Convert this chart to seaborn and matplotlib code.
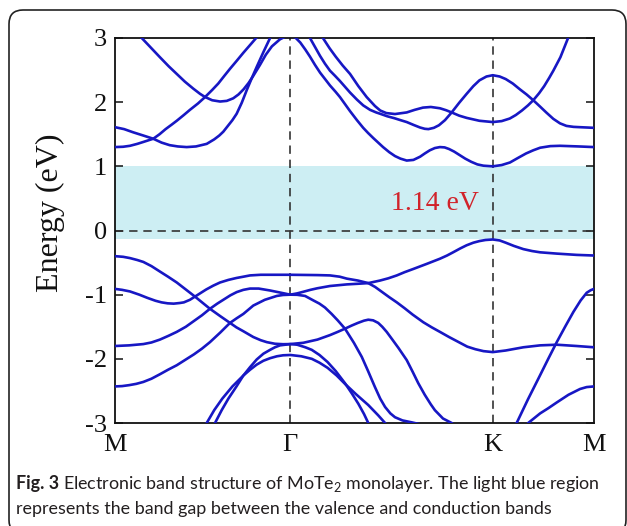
import numpy as np
import pandas as pd
import matplotlib
matplotlib.use("Agg")
import matplotlib.pyplot as plt
from matplotlib.patches import FancyBboxPatch
from matplotlib.transforms import IdentityTransform
import seaborn as sns

# High-symmetry points along the M–Γ–K–M path (path-length units)
kpoint_labels = ["M", "Γ", "K", "M"]
kpoint_pos = [0.0, 0.866, 1.866, 2.366]

# Band edges (eV, Fermi level at 0)
vbm = -0.14
gap = 1.14

# ---- conduction bands ----
cb1_k = [0.0, 0.132, 0.180, 0.222, 0.265, 0.305, 0.345, 0.387, 0.420, 0.445, 0.480, 0.519,
         0.552, 0.584, 0.610, 0.635, 0.660, 0.683, 0.716, 0.745, 0.775, 0.815, 0.840, 0.866,
         0.890, 0.915, 0.940, 0.963, 0.988, 1.013, 1.040, 1.062, 1.090, 1.111, 1.136, 1.161,
         1.195, 1.226, 1.250, 1.276, 1.300, 1.324, 1.355, 1.383, 1.410, 1.441, 1.474, 1.507,
         1.530, 1.555, 1.580, 1.605, 1.628, 1.650, 1.675, 1.700, 1.730, 1.760, 1.790, 1.820,
         1.866, 1.910, 1.951, 1.990, 2.030, 2.066, 2.100, 2.150, 2.198, 2.290, 2.366]
cb1_e = [3.45, 3.00, 2.84, 2.70, 2.56, 2.44, 2.32, 2.21, 2.13, 2.08, 2.03, 2.01,
         2.02, 2.06, 2.12, 2.20, 2.30, 2.41, 2.58, 2.74, 2.87, 2.98, 3.02, 3.03,
         3.01, 2.93, 2.82, 2.71, 2.58, 2.46, 2.35, 2.26, 2.16, 2.08, 1.97, 1.86,
         1.72, 1.60, 1.52, 1.44, 1.37, 1.30, 1.22, 1.16, 1.12, 1.09, 1.10, 1.15,
         1.20, 1.25, 1.285, 1.30, 1.295, 1.27, 1.23, 1.18, 1.12, 1.07, 1.03, 1.01,
         1.00, 1.02, 1.06, 1.13, 1.20, 1.25, 1.29, 1.315, 1.32, 1.31, 1.30]

cb2_k = [0.0, 0.040, 0.074, 0.110, 0.140, 0.189, 0.220, 0.250, 0.280, 0.305, 0.340, 0.370,
         0.410, 0.445, 0.480, 0.510, 0.540, 0.568, 0.600, 0.634, 0.667, 0.700, 0.766, 0.866,
         0.939, 0.963, 0.988, 1.013, 1.037, 1.062, 1.087, 1.111, 1.136, 1.161, 1.195, 1.226,
         1.260, 1.290, 1.309, 1.345, 1.380, 1.410, 1.441, 1.475, 1.507, 1.530, 1.548, 1.575,
         1.600, 1.630, 1.663, 1.700, 1.737, 1.770, 1.800, 1.835, 1.866, 1.900, 1.930, 1.965,
         2.000, 2.033, 2.066, 2.100, 2.130, 2.165, 2.198, 2.230, 2.265, 2.297, 2.366]
cb2_e = [1.30, 1.305, 1.32, 1.35, 1.38, 1.43, 1.50, 1.58, 1.65, 1.71, 1.80, 1.88,
         1.98, 2.08, 2.19, 2.29, 2.41, 2.52, 2.64, 2.77, 2.89, 3.01, 3.25, 3.40,
         3.15, 3.00, 2.86, 2.72, 2.60, 2.49, 2.41, 2.33, 2.24, 2.15, 2.04, 1.95,
         1.88, 1.84, 1.82, 1.78, 1.75, 1.72, 1.69, 1.645, 1.605, 1.585, 1.58, 1.60,
         1.64, 1.72, 1.84, 1.99, 2.13, 2.25, 2.34, 2.40, 2.42, 2.40, 2.36, 2.29,
         2.20, 2.12, 2.03, 1.93, 1.84, 1.74, 1.67, 1.63, 1.615, 1.61, 1.60]

cb3_k = [0.0, 0.045, 0.090, 0.140, 0.189, 0.230, 0.270, 0.310, 0.354, 0.400, 0.453, 0.490,
         0.515, 0.535, 0.560, 0.580, 0.601, 0.626, 0.651, 0.675, 0.700, 0.733, 0.766, 0.866,
         0.988, 1.027, 1.060, 1.090, 1.125, 1.161, 1.202, 1.243, 1.284, 1.310, 1.340, 1.383,
         1.441, 1.480, 1.521, 1.560, 1.605, 1.635, 1.663, 1.700, 1.737, 1.800, 1.866, 1.910,
         1.950, 1.980, 2.010, 2.040, 2.066, 2.095, 2.120, 2.145, 2.165, 2.200, 2.238, 2.300]
cb3_e = [1.61, 1.58, 1.53, 1.48, 1.43, 1.37, 1.33, 1.31, 1.30, 1.31, 1.35, 1.42,
         1.48, 1.54, 1.64, 1.72, 1.82, 1.99, 2.19, 2.37, 2.55, 2.78, 3.00, 3.50,
         3.20, 3.00, 2.84, 2.71, 2.57, 2.44, 2.25, 2.08, 1.94, 1.87, 1.83, 1.815,
         1.84, 1.88, 1.915, 1.925, 1.905, 1.875, 1.84, 1.79, 1.755, 1.71, 1.69, 1.705,
         1.745, 1.80, 1.87, 1.95, 2.03, 2.14, 2.25, 2.38, 2.49, 2.70, 3.00, 3.40]

# ---- valence bands ----
vb1_k = [0.0, 0.040, 0.074, 0.110, 0.140, 0.180, 0.222, 0.262, 0.305, 0.350, 0.395, 0.430,
         0.469, 0.520, 0.568, 0.600, 0.634, 0.683, 0.720, 0.750, 0.790, 0.830, 0.866, 0.900,
         0.940, 0.972, 1.010, 1.050, 1.090, 1.136, 1.170, 1.202, 1.230, 1.251, 1.280]
vb1_e = [-0.40, -0.41, -0.43, -0.46, -0.49, -0.555, -0.64, -0.72, -0.81, -0.92, -1.03, -1.12,
         -1.22, -1.335, -1.44, -1.51, -1.57, -1.66, -1.71, -1.74, -1.765, -1.772, -1.77, -1.78,
         -1.82, -1.86, -1.94, -2.05, -2.19, -2.38, -2.54, -2.70, -2.86, -3.00, -3.20]

vb2_k = [0.0, 0.035, 0.074, 0.120, 0.160, 0.200, 0.230, 0.260, 0.290, 0.320, 0.340, 0.370,
         0.395, 0.420, 0.450, 0.485, 0.519, 0.560, 0.600, 0.634, 0.667, 0.720, 0.866, 1.000,
         1.062, 1.110, 1.145, 1.200, 1.251, 1.285, 1.320, 1.355, 1.392, 1.430, 1.470, 1.523,
         1.565, 1.605, 1.650, 1.704, 1.740, 1.780, 1.820, 1.866, 1.930, 2.017, 2.100, 2.182,
         2.280, 2.366]
vb2_e = [-0.91, -0.925, -0.95, -1.00, -1.05, -1.095, -1.12, -1.135, -1.14, -1.13, -1.12, -1.08,
         -1.03, -0.98, -0.92, -0.86, -0.81, -0.77, -0.74, -0.72, -0.70, -0.69, -0.69, -0.695,
         -0.70, -0.72, -0.75, -0.78, -0.82, -0.88, -0.96, -1.04, -1.12, -1.21, -1.31, -1.43,
         -1.51, -1.58, -1.66, -1.75, -1.81, -1.85, -1.88, -1.895, -1.87, -1.82, -1.79, -1.78,
         -1.80, -1.82]

vb3_k = [0.0, 0.070, 0.140, 0.180, 0.222, 0.265, 0.305, 0.350, 0.390, 0.430, 0.469, 0.505,
         0.540, 0.570, 0.601, 0.634, 0.667, 0.710, 0.766, 0.820, 0.866, 0.900, 0.930, 0.965,
         1.000, 1.062, 1.145, 1.200, 1.251, 1.280, 1.309, 1.350, 1.392, 1.430, 1.473, 1.540,
         1.605, 1.640, 1.670, 1.705, 1.737, 1.770, 1.800, 1.830, 1.866, 1.900, 1.930, 1.970,
         2.017, 2.060, 2.100, 2.182, 2.280, 2.366]
vb3_e = [-1.80, -1.79, -1.77, -1.745, -1.70, -1.64, -1.58, -1.50, -1.41, -1.32, -1.22, -1.14,
         -1.07, -1.01, -0.96, -0.925, -0.905, -0.905, -0.935, -0.97, -1.00, -0.98, -0.955, -0.925,
         -0.90, -0.865, -0.84, -0.83, -0.82, -0.80, -0.78, -0.745, -0.70, -0.65, -0.60, -0.52,
         -0.44, -0.39, -0.34, -0.28, -0.23, -0.19, -0.165, -0.148, -0.14, -0.155, -0.19, -0.24,
         -0.29, -0.32, -0.34, -0.36, -0.38, -0.39]

vb4_k = [0.0, 0.035, 0.070, 0.105, 0.140, 0.180, 0.222, 0.262, 0.305, 0.350, 0.390, 0.430,
         0.469, 0.520, 0.568, 0.600, 0.634, 0.683, 0.740, 0.799, 0.830, 0.866, 0.900, 0.939,
         0.980, 1.010, 1.037, 1.070, 1.100, 1.136, 1.180, 1.219, 1.250, 1.284, 1.310, 1.334,
         1.360, 1.383, 1.420, 1.466, 1.548, 1.600]
vb4_e = [-2.43, -2.425, -2.41, -2.39, -2.36, -2.31, -2.24, -2.17, -2.10, -2.01, -1.93, -1.84,
         -1.74, -1.59, -1.44, -1.37, -1.30, -1.17, -1.08, -1.02, -1.005, -1.00, -1.002, -1.02,
         -1.09, -1.14, -1.20, -1.30, -1.40, -1.53, -1.75, -1.97, -2.19, -2.44, -2.62, -2.75,
         -2.85, -2.91, -2.96, -2.99, -3.05, -3.15]

vb5_k = [0.480, 0.494, 0.527, 0.560, 0.600, 0.634, 0.667, 0.700, 0.733, 0.766, 0.790, 0.815,
         0.866, 0.930, 1.000, 1.062, 1.100, 1.136, 1.170, 1.200, 1.230, 1.251, 1.275, 1.300,
         1.320, 1.342, 1.370, 1.400, 1.441, 1.470, 1.498, 1.530, 1.560, 1.580, 1.620, 1.663,
         1.700]
vb5_e = [-3.10, -3.00, -2.80, -2.62, -2.43, -2.26, -2.13, -2.01, -1.92, -1.86, -1.82, -1.79,
         -1.77, -1.75, -1.70, -1.63, -1.58, -1.53, -1.48, -1.44, -1.405, -1.39, -1.40, -1.44,
         -1.50, -1.58, -1.70, -1.83, -2.02, -2.20, -2.38, -2.56, -2.71, -2.80, -2.93, -3.00,
         -3.10]

vb6_k = [0.440, 0.453, 0.490, 0.530, 0.580, 0.634, 0.667, 0.700, 0.733, 0.766, 0.800, 0.830,
         0.866, 0.920, 0.972, 1.010, 1.050, 1.095, 1.136, 1.190, 1.251, 1.300, 1.334, 1.360]
vb6_e = [-3.10, -3.00, -2.80, -2.62, -2.43, -2.26, -2.17, -2.09, -2.03, -1.99, -1.96, -1.945,
         -1.94, -1.96, -2.00, -2.06, -2.14, -2.26, -2.39, -2.55, -2.72, -2.88, -3.00, -3.10]

vb7_k = [1.960, 1.984, 2.040, 2.099, 2.140, 2.182, 2.225, 2.264, 2.300, 2.330, 2.350, 2.366]
vb7_e = [-3.10, -3.00, -2.63, -2.26, -2.00, -1.74, -1.49, -1.27, -1.09, -0.97, -0.93, -0.91]

vb8_k = [2.020, 2.041, 2.100, 2.140, 2.182, 2.240, 2.297, 2.330, 2.366]
vb8_e = [-3.10, -3.00, -2.85, -2.77, -2.68, -2.56, -2.47, -2.44, -2.43]

bands = {
    "c1": (cb1_k, cb1_e), "c2": (cb2_k, cb2_e), "c3": (cb3_k, cb3_e),
    "v1": (vb1_k, vb1_e), "v2": (vb2_k, vb2_e), "v3": (vb3_k, vb3_e),
    "v4": (vb4_k, vb4_e), "v5": (vb5_k, vb5_e), "v6": (vb6_k, vb6_e),
    "v7": (vb7_k, vb7_e), "v8": (vb8_k, vb8_e),
}
df = pd.concat(
    [pd.DataFrame({"k": k, "E": e, "band": name}) for name, (k, e) in bands.items()],
    ignore_index=True,
)

sns.set_theme(style="ticks")
plt.rcParams["font.family"] = ["Liberation Serif", "DejaVu Serif"]
plt.rcParams["axes.unicode_minus"] = False
plt.rcParams["mathtext.fontset"] = "custom"
plt.rcParams["mathtext.rm"] = "Lato"

W, H = 627, 526
fig = plt.figure(figsize=(W / 100, H / 100), dpi=100)
ax = fig.add_axes([115 / W, 1 - 423 / H, 479 / W, 385 / H])

# band-gap region and reference lines
ax.axhspan(vbm, vbm + gap, color="#cdeef3", lw=0, zorder=0)
ax.axhline(0, color="#333333", lw=1.2, ls=(0, (5, 3.5)), zorder=1)
for kp in kpoint_pos[1:3]:
    ax.axvline(kp, color="#333333", lw=1.2, ls=(0, (5, 3.5)), zorder=1)

sns.lineplot(data=df, x="k", y="E", units="band", estimator=None, sort=False,
             color="#1717c4", lw=1.9, ax=ax, zorder=3, legend=False,
             solid_joinstyle="round")

ax.text(1.581, 0.42, f"{gap:.2f} eV", color="#d1232a", fontsize=20,
        ha="center", va="center", zorder=4)

ax.set_xlim(kpoint_pos[0], kpoint_pos[-1])
ax.set_ylim(-3, 3)
ax.set_xticks(kpoint_pos, kpoint_labels)
ax.set_yticks([-3, -2, -1, 0, 1, 2, 3])
ax.tick_params(axis="x", length=0, pad=8, labelsize=19, colors="#111111")
ax.tick_params(axis="y", direction="in", length=6, width=1.1, pad=6, labelsize=19,
               right=True, colors="#111111")
ax.set_xlabel("")
ax.set_ylabel("Energy (eV)", fontsize=23, color="#111111")
ax.yaxis.set_label_coords(-0.105, 0.545)
for sp in ax.spines.values():
    sp.set_linewidth(1.3)
    sp.set_color("#111111")

# rounded frame around the figure and its caption
frame = FancyBboxPatch((9, -8), 617, 524, boxstyle="round,pad=0,rounding_size=14",
                       transform=IdentityTransform(), fill=False, lw=1.2, ec="#222222")
fig.add_artist(frame)

# caption: bold figure number followed by regular text
cap_kw = dict(family="Lato", fontsize=12.9, color="#231f20", ha="left", va="baseline")
x0 = 16
y1 = 1 - 489 / H
lead = fig.text(x0 / W, y1, "Fig. 3", weight="bold", **cap_kw)
renderer = fig.canvas.get_renderer()
lead_w = lead.get_window_extent(renderer).width
fig.text((x0 + lead_w + 4) / W, y1,
         "Electronic band structure of MoTe$_2$ monolayer. The light blue region",
         **cap_kw)
fig.text(x0 / W, 1 - 514 / H,
         "represents the band gap between the valence and conduction bands", **cap_kw)

fig.savefig("out.png", dpi=100)
